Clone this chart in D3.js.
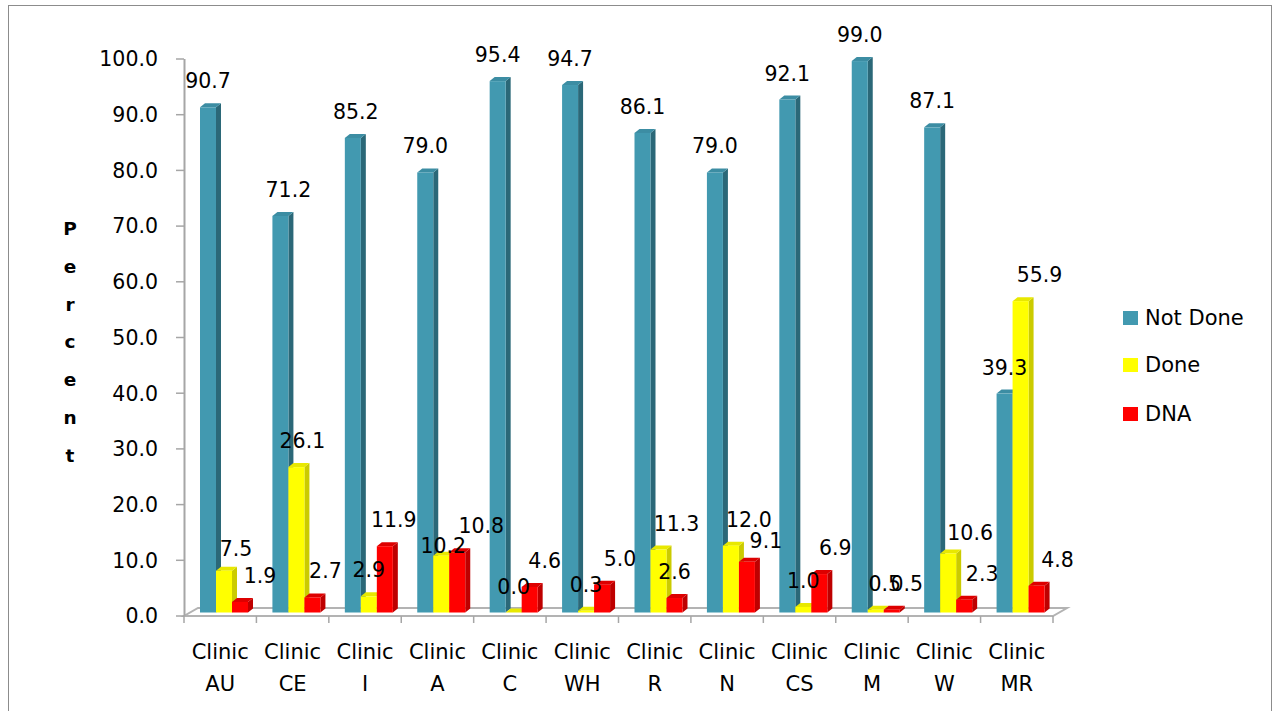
<!DOCTYPE html>
<html>
<head>
<meta charset="utf-8">
<script src="https://cdn.jsdelivr.net/npm/d3@7"></script>
<style>
  html, body { margin: 0; padding: 0; background: #fff; }
  svg { display: block; }
  text { font-family: "DejaVu Sans", sans-serif; fill: #000; }
</style>
</head>
<body>
<svg id="chart" width="1277" height="711"></svg>
<script>
// Clinic outcomes, percent of patients
const clinics = ["AU", "CE", "I", "A", "C", "WH", "R", "N", "CS", "M", "W", "MR"];
const seriesNames = ["Not Done", "Done", "DNA"];
const notDone = [90.7, 71.2, 85.2, 79.0, 95.4, 94.7, 86.1, 79.0, 92.1, 99.0, 87.1, 39.3];
const done    = [7.5, 26.1, 2.9, 10.2, 0.0, 0.3, 11.3, 12.0, 1.0, 0.5, 10.6, 55.9];
const dna     = [1.9, 2.7, 11.9, 10.8, 4.6, 5.0, 2.6, 9.1, 6.9, 0.5, 2.3, 4.8];
const yTicks  = [0, 10, 20, 30, 40, 50, 60, 70, 80, 90, 100];

// label nudges (px) relative to each bar's front face
const labelDx = [
  [0, 8, 3, 0, 0, 0, 0, 0, 0, 0, 0, 0],
  [12, 6, 0, 2, 0, 0, 18, 18, 0, 9, 22, 19],
  [20, 13, 9, 24, 15, 18, 0, 19, 16, 15, 18, 21]
];
const labelDy = [
  [0, 0, 0, 0, 0, 0, 0, 0, 0, 0, 0, 0],
  [4, 0, 0, 16, 0, 0, 0, 0, 0, 0, 6, 0],
  [0, 0, 0, 0, 0, 0, 0, 5, 0, 0, 0, 0]
];

const values = [notDone, done, dna];
const faces = [
  { front: "#4299B0", side: "#2B6878", top: "#3C8DA3" },
  { front: "#FFFF00", side: "#CBCB00", top: "#E8E800" },
  { front: "#FF0000", side: "#BE0000", top: "#DD0000" }
];

const svg = d3.select("#chart");

// outer frame
svg.append("rect")
  .attr("x", 8.5).attr("y", 5.5).attr("width", 1263).attr("height", 730)
  .attr("fill", "none").attr("stroke", "#8c8c8c").attr("stroke-width", 1);

const x = d3.scaleBand().domain(clinics).range([184, 1053]).padding(0);
const xs = d3.scaleBand().domain(seriesNames).range([12, 60]).padding(0);
const y = d3.scaleLinear().domain([0, 100]).range([615.5, 58.5]);

// 3D projection: floor depth and bar depth
const floorDx = 14, floorDy = -8;
const planeDx = 4, planeDy = -3;
const depthDx = 5, depthDy = -4;

const gray = "#a6a6a6";

// floor
const fx0 = x.range()[0], fx1 = x.range()[1], fy = y(0) + 0.5;
svg.append("path")
  .attr("d", `M${fx0},${fy}L${fx1},${fy}L${fx1 + floorDx},${fy + floorDy}L${fx0 + floorDx},${fy + floorDy}Z`)
  .attr("fill", "#fff").attr("stroke", "#b3b3b3").attr("stroke-width", 2);

// category ticks under the floor
const bounds = clinics.map(c => x(c)).concat([fx1]);
svg.append("g").selectAll("line").data(bounds).join("line")
  .attr("x1", d => d).attr("x2", d => d)
  .attr("y1", fy).attr("y2", fy + 7)
  .attr("stroke", gray).attr("stroke-width", 1.5);

// value axis
const yAxis = d3.axisLeft(y).tickValues(yTicks).tickFormat(d3.format(".1f"))
  .tickSize(8).tickSizeOuter(0).tickPadding(18);
const ax = svg.append("g").attr("transform", "translate(184,0)").call(yAxis);
ax.select(".domain").attr("stroke", gray).attr("stroke-width", 2);
ax.selectAll(".tick line").attr("stroke", gray).attr("stroke-width", 1.5);
ax.selectAll(".tick text")
  .style("font-family", "'DejaVu Sans', sans-serif")
  .style("font-size", "20.5px").attr("fill", "#000").attr("dy", "0.36em");

// bars, drawn left to right so nearer faces cover farther ones
const bars = svg.append("g");
clinics.forEach((c, i) => {
  seriesNames.forEach((s, k) => {
    const v = values[k][i];
    const x0 = x(c) + xs(s) + planeDx;
    const x1 = x0 + xs.bandwidth();
    const yt = y(v) + planeDy;
    const yb = y(0) + planeDy;
    const f = faces[k];
    // side face
    bars.append("path")
      .attr("d", `M${x1},${yb}L${x1},${yt}L${x1 + depthDx},${yt + depthDy}L${x1 + depthDx},${yb + depthDy}Z`)
      .attr("fill", f.side);
    // top face
    bars.append("path")
      .attr("d", `M${x0},${yt}L${x1},${yt}L${x1 + depthDx},${yt + depthDy}L${x0 + depthDx},${yt + depthDy}Z`)
      .attr("fill", f.top);
    // front face
    bars.append("rect")
      .attr("x", x0).attr("y", yt).attr("width", x1 - x0).attr("height", yb - yt)
      .attr("fill", f.front);
  });
});

// value labels
const labels = svg.append("g").attr("font-size", "20.5px").attr("text-anchor", "middle");
clinics.forEach((c, i) => {
  seriesNames.forEach((s, k) => {
    const v = values[k][i];
    const cx = x(c) + xs(s) + planeDx + xs.bandwidth() / 2;
    labels.append("text")
      .attr("x", cx + labelDx[k][i])
      .attr("y", y(v) - 22 + labelDy[k][i])
      .text(d3.format(".1f")(v));
  });
});

// category labels
const cat = svg.append("g").attr("font-size", "21px").attr("text-anchor", "middle");
clinics.forEach(c => {
  const cx = x(c) + x.bandwidth() / 2;
  cat.append("text").attr("x", cx).attr("y", 659).text("Clinic");
  cat.append("text").attr("x", cx).attr("y", 691).text(c);
});

// stacked axis title
const title = "Percent".split("");
svg.append("g").attr("font-size", "18.5px").attr("font-weight", "bold").attr("text-anchor", "middle")
  .selectAll("text").data(title).join("text")
  .attr("x", 70).attr("y", (d, i) => 235 + i * 37.8).text(d => d);

// legend
const lg = svg.append("g").attr("transform", "translate(1123,0)");
const legendY = [311, 358, 407];
seriesNames.forEach((s, k) => {
  lg.append("rect").attr("x", 0).attr("y", legendY[k]).attr("width", 15).attr("height", 14)
    .attr("fill", faces[k].front);
  lg.append("text").attr("x", 22).attr("y", legendY[k] + 14).attr("font-size", "21px").text(s);
});
</script>
</body>
</html>
